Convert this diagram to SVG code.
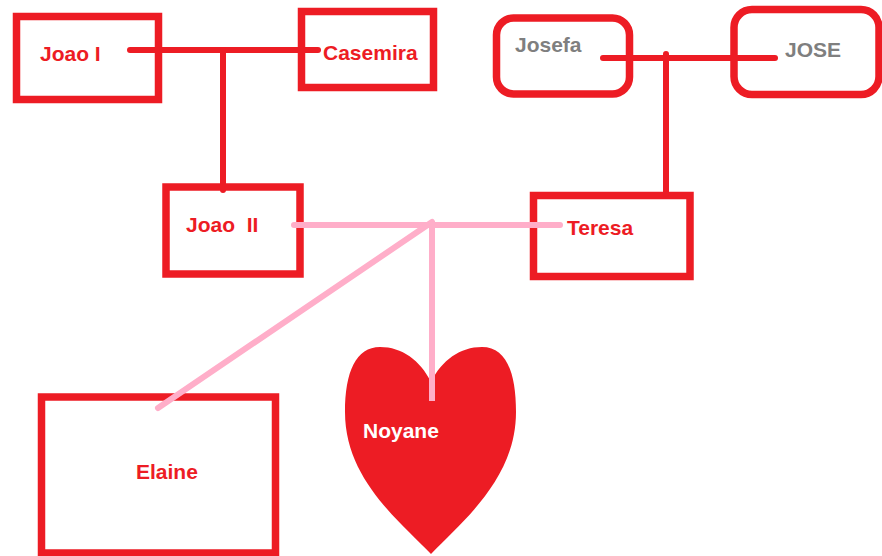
<svg xmlns="http://www.w3.org/2000/svg" width="882" height="556" viewBox="0 0 882 556">
<style>
.box{fill:none;stroke:#ED1C24;stroke-width:7.5}
.red{stroke:#ED1C24;stroke-width:6;stroke-linecap:round;fill:none}
.pink{stroke:#FFAEC9;stroke-width:6;stroke-linecap:round;fill:none}
text{font-family:"Liberation Sans",Arial,sans-serif;font-weight:bold;font-size:21px}
.rt{fill:#ED1C24}
.gt{fill:#7F7F7F}
.wt{fill:#FFFFFF}
</style>
<rect width="882" height="556" fill="#FFFFFF"/>
<g id="joao1"><rect class="box" x="16.5" y="16.5" width="142" height="83"/><text class="rt" x="40" y="61">Joao I</text></g>
<g id="casemira"><rect class="box" x="301.5" y="11.5" width="132" height="76"/><text class="rt" x="323" y="60">Casemira</text></g>
<g id="joao2"><rect class="box" x="166" y="187" width="134" height="87"/><text class="rt" x="186" y="232" style="white-space:pre">Joao  II</text></g>
<g id="josefa"><rect class="box" x="496.5" y="18" width="133" height="76" rx="17"/><text class="gt" x="515" y="52">Josefa</text></g>
<g id="jose"><rect class="box" x="734" y="9.5" width="145" height="85" rx="18"/><text class="gt" x="785" y="57">JOSE</text></g>
<g id="teresa"><rect class="box" x="533.5" y="195.5" width="156.5" height="81"/><text class="rt" x="567" y="235">Teresa</text></g>
<g id="elaine"><rect class="box" x="41.5" y="397" width="234" height="156"/><text class="rt" x="136" y="479">Elaine</text></g>
<g id="connectors">
<line class="red" x1="130" y1="50" x2="318" y2="50"/>
<line class="red" x1="223" y1="50" x2="223" y2="190"/>
<line class="red" x1="603" y1="58" x2="775" y2="58"/>
<line class="red" x1="666" y1="54" x2="666" y2="194"/>
<line class="pink" x1="294" y1="225" x2="560" y2="225"/>
<line class="pink" x1="432" y1="222" x2="158" y2="408"/>
</g>
<g id="noyane">
<path fill="#ED1C24" d="M431,382 C420,360 402,347 380,347 C356,347 345,372 345,412 C345,478 398,520 431,554 C464,520 516,478 516,412 C516,372 506,347 482,347 C460,347 442,360 431,382 Z"/>
<line class="pink" x1="432" y1="225" x2="432" y2="401" style="stroke-linecap:butt"/>
<text class="wt" x="363" y="438">Noyane</text>
</g>
</svg>
